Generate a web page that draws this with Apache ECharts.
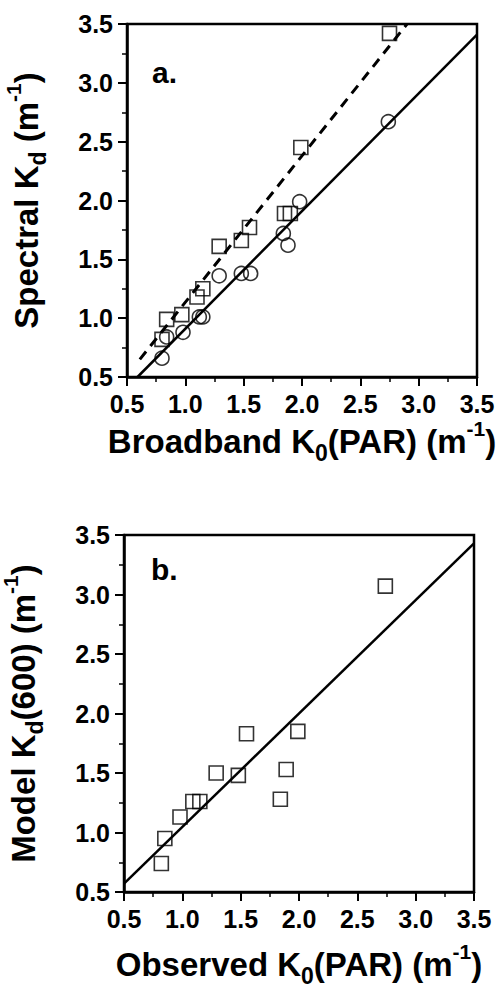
<!DOCTYPE html>
<html>
<head>
<meta charset="utf-8">
<script src="https://cdn.jsdelivr.net/npm/echarts@6/dist/echarts.min.js"></script>
<style>
  html, body { margin: 0; padding: 0; background: #fff; }
  #chart { width: 501px; height: 991px; }
</style>
</head>
<body>
<div id="chart"></div>
<script>
// panel a: spectral Kd vs broadband K0(PAR)
const circlesA = [
  [2.74, 2.67], [1.98, 1.99], [1.84, 1.72], [1.88, 1.62], [1.48, 1.38], [1.56, 1.38],
  [1.29, 1.36], [1.12, 1.01], [1.15, 1.01], [0.98, 0.88], [0.84, 0.84], [0.80, 0.66]
];
const squaresA = [
  [2.75, 3.42], [1.99, 2.45], [1.85, 1.89], [1.90, 1.89], [1.55, 1.77], [1.48, 1.66],
  [1.29, 1.61], [1.15, 1.25], [1.10, 1.18], [0.97, 1.03], [0.84, 0.99], [0.80, 0.82]
];
const fitSolidA = [[0.59, 0.5], [3.5, 3.41]];
const fitDashedA = [[0.61, 0.65], [2.9, 3.5]];

// panel b: model Kd(600) vs observed K0(PAR)
const squaresB = [
  [2.74, 3.07], [1.55, 1.83], [1.99, 1.85], [1.29, 1.50], [1.48, 1.48], [1.89, 1.53],
  [1.84, 1.28], [0.98, 1.13], [1.09, 1.26], [1.15, 1.26], [0.85, 0.95], [0.82, 0.74]
];
const fitB = [[0.5, 0.57], [3.5, 3.43]];

const axisMin = 0.5;
const axisMax = 3.5;
const tickStep = 0.5;

const font = "Liberation Sans";
const rich = {
  n: { fontSize: 33, fontWeight: "bold", fontFamily: font, color: "#000", lineHeight: 46, verticalAlign: "middle" },
  sub: { fontSize: 23, fontWeight: "bold", fontFamily: font, color: "#000", lineHeight: 23, verticalAlign: "bottom" },
  sup: { fontSize: 21, fontWeight: "bold", fontFamily: font, color: "#000", lineHeight: 21, verticalAlign: "top" }
};

function valueAxis(gridIndex, name, nameGap, rotate) {
  return {
    type: "value",
    gridIndex: gridIndex,
    min: axisMin,
    max: axisMax,
    interval: tickStep,
    name: name,
    nameLocation: "middle",
    nameGap: nameGap,
    nameRotate: rotate,
    nameTextStyle: { rich: rich },
    axisLine: { show: true, onZero: false, lineStyle: { color: "#000", width: 2.5 } },
    axisTick: { show: true, inside: false, length: 9, lineStyle: { color: "#000", width: 2 } },
    minorTick: { show: true, splitNumber: 2, length: 5, lineStyle: { color: "#000", width: 1.5 } },
    splitLine: { show: false },
    axisLabel: {
      margin: 14,
      color: "#000",
      fontSize: 25,
      fontWeight: "bold",
      fontFamily: font,
      formatter: function (v) { return v.toFixed(1); }
    }
  };
}

function markers(data, symbol, idx) {
  return {
    type: "scatter",
    xAxisIndex: idx,
    yAxisIndex: idx,
    data: data,
    symbol: symbol,
    symbolSize: 14,
    itemStyle: { color: "rgba(0,0,0,0)", borderColor: "#000", borderWidth: 1.6 },
    z: 3
  };
}

function fitLine(data, idx, dash) {
  return {
    type: "line",
    xAxisIndex: idx,
    yAxisIndex: idx,
    data: data,
    showSymbol: false,
    symbol: "none",
    lineStyle: { color: "#000", width: dash ? 3 : 2.5, type: dash ? [10, 7] : "solid" },
    z: 2
  };
}

const gridStyle = { show: true, borderColor: "#000", borderWidth: 2.5, backgroundColor: "#fff", containLabel: false, outerBoundsMode: "none" };

const myChart = echarts.init(document.getElementById("chart"), null, { renderer: "svg" });
myChart.setOption({
  backgroundColor: "#fff",
  animation: false,
  title: [
    { text: "a.", left: 147, top: 52, textStyle: { fontSize: 30, fontWeight: "bold", fontFamily: font, color: "#000" } },
    { text: "b.", left: 146, top: 549, textStyle: { fontSize: 30, fontWeight: "bold", fontFamily: font, color: "#000" } }
  ],
  grid: [
    Object.assign({ left: 127, top: 24, width: 350, height: 353 }, gridStyle),
    Object.assign({ left: 124, top: 535, width: 350, height: 357 }, gridStyle)
  ],
  xAxis: [
    valueAxis(0, "{n|Broadband K}{sub|0}{n|(PAR) (m}{sup|-1}{n|)}", 41, 0),
    valueAxis(1, "{n|Observed K}{sub|0}{n|(PAR) (m}{sup|-1}{n|)}", 49, 0)
  ],
  yAxis: [
    valueAxis(0, "{n|Spectral K}{sub|d}{n| (m}{sup|-1}{n|)}", 78, 90),
    valueAxis(1, "{n|Model K}{sub|d}{n|(600) (m}{sup|-1}{n|)}", 78, 90)
  ],
  series: [
    fitLine(fitSolidA, 0, false),
    fitLine(fitDashedA, 0, true),
    markers(circlesA, "circle", 0),
    markers(squaresA, "rect", 0),
    fitLine(fitB, 1, false),
    markers(squaresB, "rect", 1)
  ]
});
window.addEventListener("resize", function () {
  myChart.resize();
});
</script>
</body>
</html>
